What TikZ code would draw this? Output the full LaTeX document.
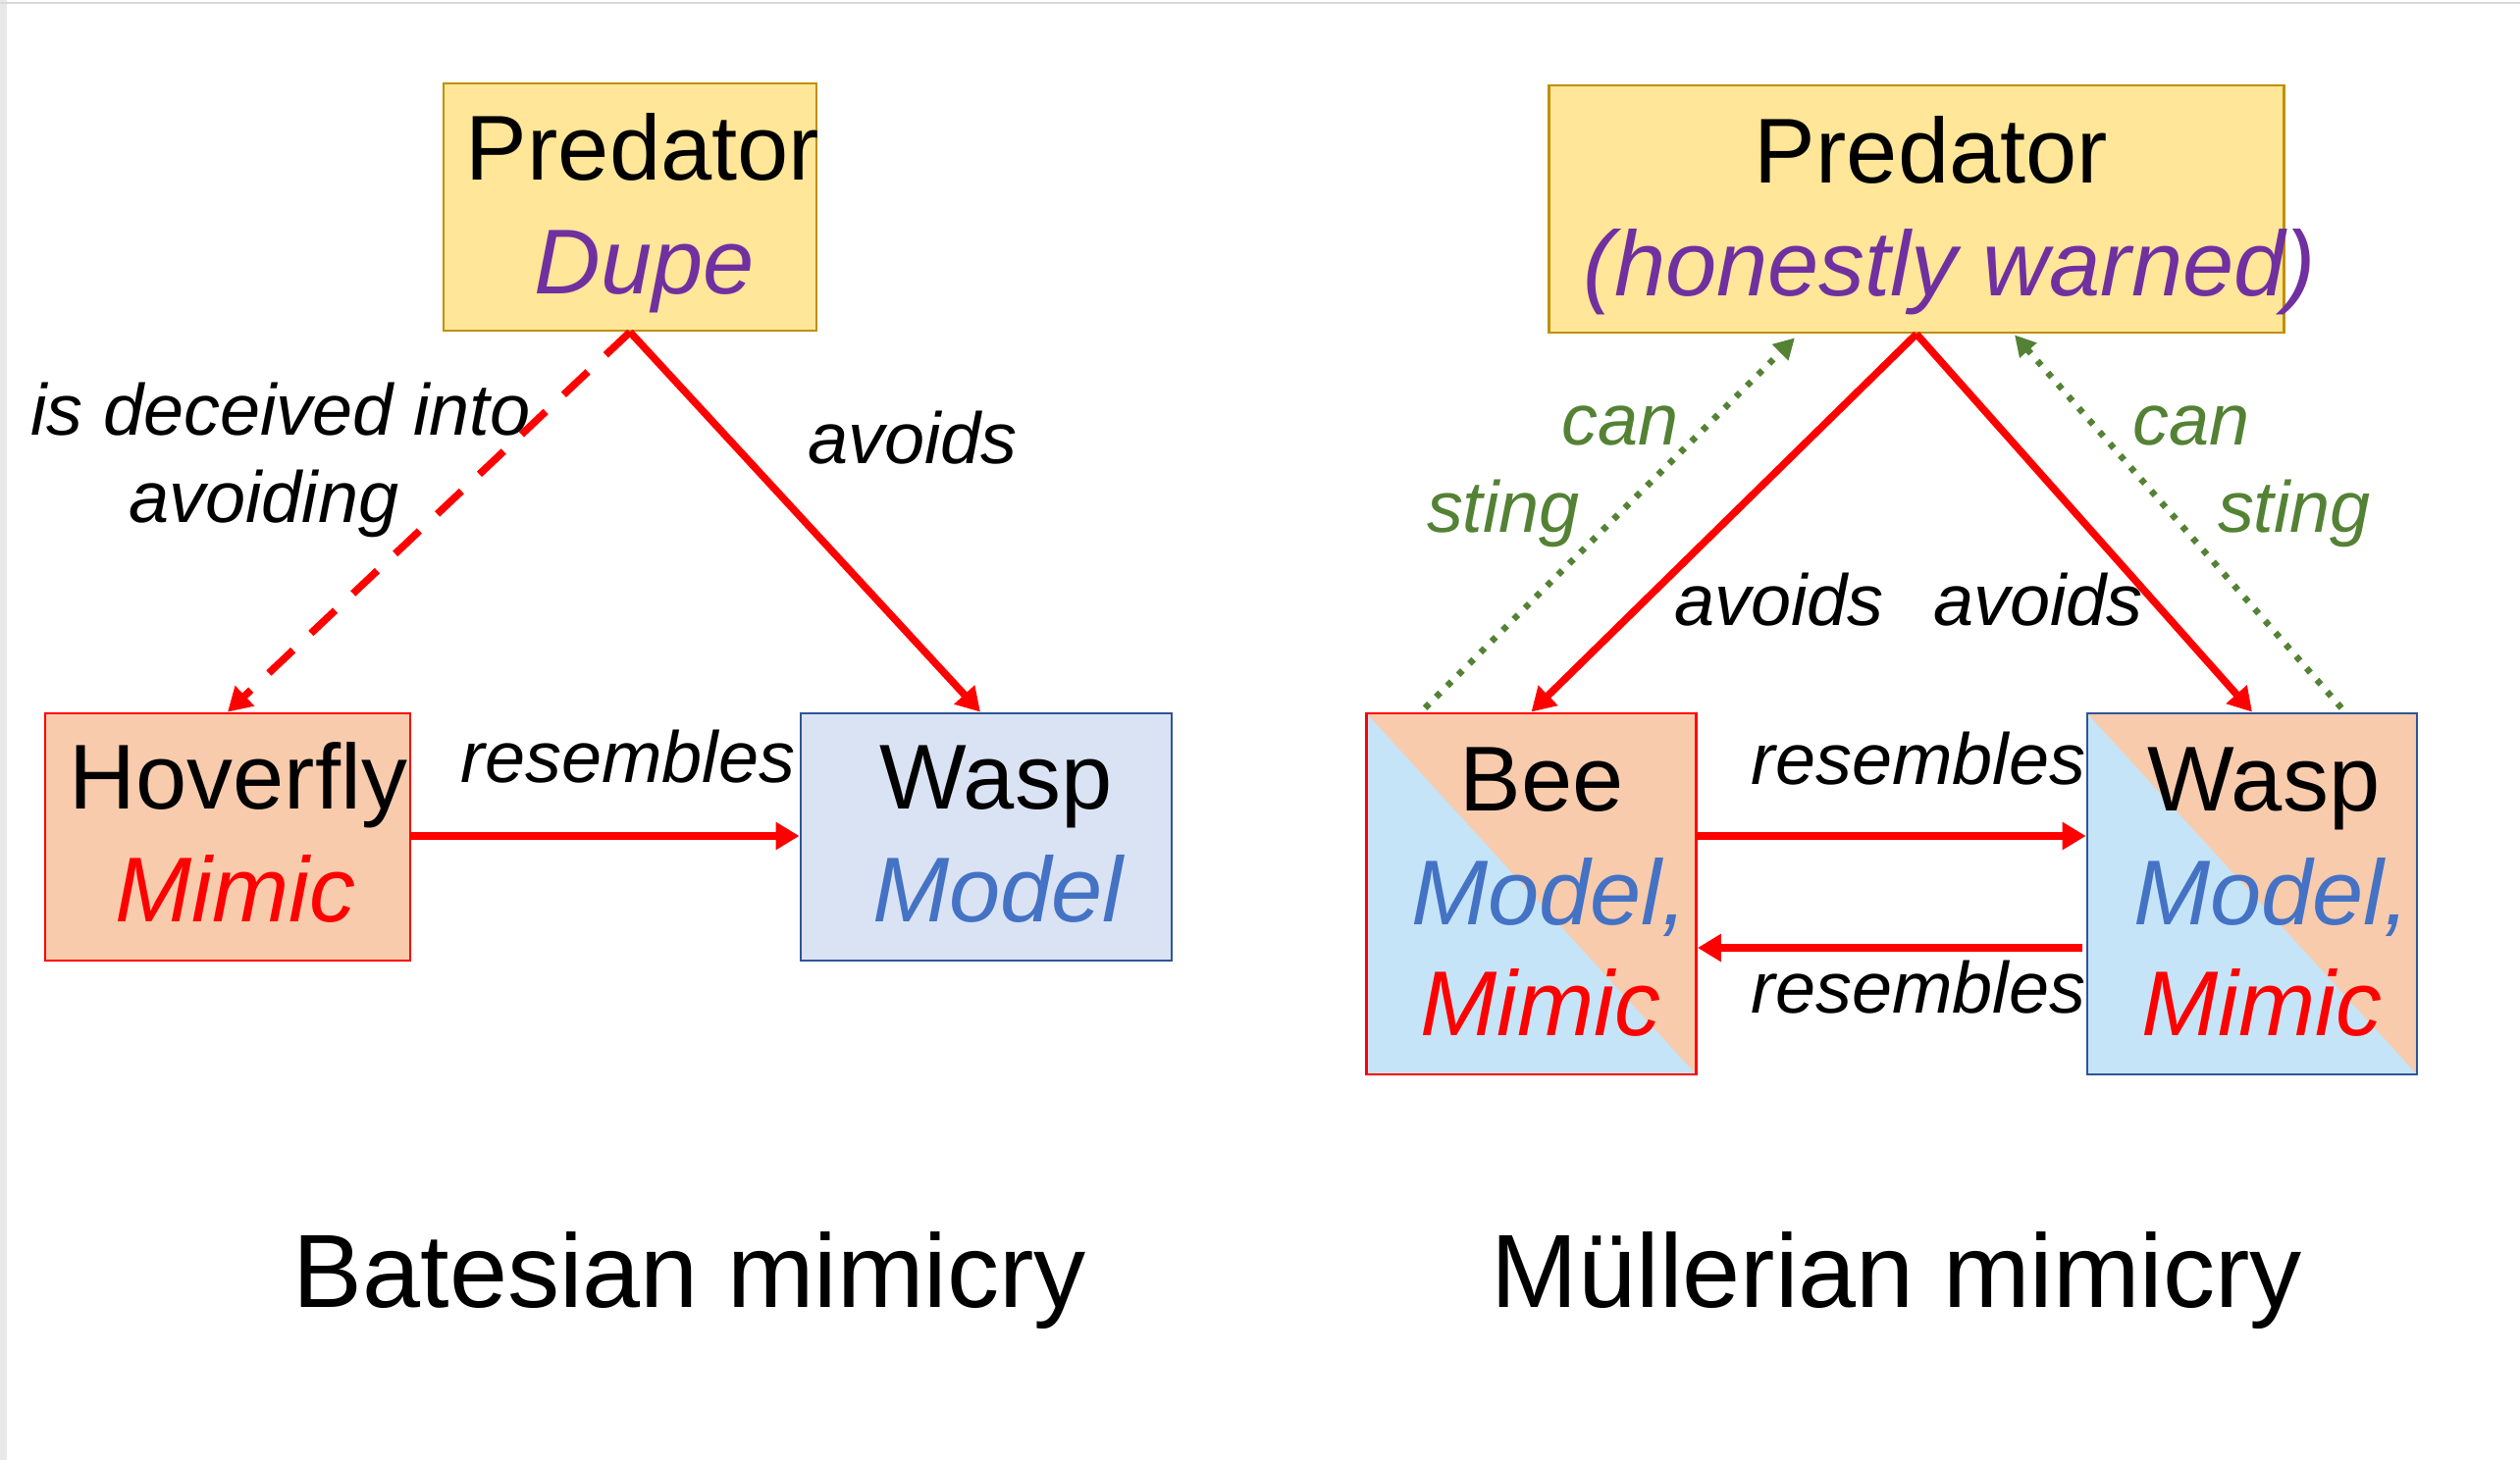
\documentclass[tikz,border=0pt]{standalone}
\usepackage{fontspec}
\setmainfont{Liberation Sans}
\usetikzlibrary{arrows.meta,calc}
\definecolor{predfill}{HTML}{FFE699}
\definecolor{preddraw}{HTML}{BF9000}
\definecolor{salmon}{HTML}{F8CBAD}
\definecolor{wfill}{HTML}{DAE3F3}
\definecolor{wdraw}{HTML}{2F5597}
\definecolor{skyb}{HTML}{C5E4F7}
\definecolor{purp}{HTML}{7030A0}
\definecolor{modb}{HTML}{4472C4}
\definecolor{grn}{HTML}{548235}
\definecolor{redc}{HTML}{FF0000}
\newcommand\myboxfont{\fontsize{26.7}{30}\selectfont}
\newcommand\mylblfont{\fontsize{21}{24}\selectfont}
\newcommand\mytitfont{\fontsize{30.2}{34}\selectfont}
\begin{document}
\begin{tikzpicture}[x=0.01cm,y=-0.01cm,
  box/.style={rectangle, draw, line width=0.75pt, inner sep=0pt},
  predbox/.style={box, fill=predfill, draw=preddraw, minimum width=3.8cm, minimum height=2.52cm},
  splitbox/.style={box, fill=skyb, minimum width=3.36cm, minimum height=3.68cm,
    path picture={\fill[salmon] (path picture bounding box.north west) -- (path picture bounding box.north east) -- (path picture bounding box.south east) -- cycle;}},
  txt/.style={inner sep=0pt, anchor=base},
  big/.style={txt, font=\myboxfont},
  bigit/.style={txt, font=\myboxfont\itshape},
  lbl/.style={txt, font=\mylblfont\itshape},
  tit/.style={txt, font=\mytitfont},
  redarrow/.style={draw=redc, line width=0.075cm, -{Triangle[length=0.24cm,width=0.27cm]}},
  greenarrow/.style={draw=grn, line width=0.065cm, dash pattern=on 0.06cm off 0.1cm, -{Triangle[length=0.21cm,width=0.22cm]}},
  dasharrow/.style={redarrow, dash pattern=on 0.34cm off 0.25cm}
]
\useasboundingbox (0,0) rectangle (2568,1488);
\fill[white] (0,0) rectangle (2568,1488);
\fill[black!9] (0,0) rectangle (7,1488);
\draw[black!15, line width=0.02cm] (0,3) -- (2568,3);

% ---------------- Batesian ----------------
\node[predbox] (predL) at (642,211) {};
\node[box, fill=salmon, draw=redc, minimum width=3.72cm, minimum height=2.52cm] (hov) at (232,853) {};
\node[box, fill=wfill, draw=wdraw, minimum width=3.78cm, minimum height=2.52cm] (waspL) at (1005,853) {};

\node[big] (tPredL) at (655,184) {Predator};
\node[bigit, text=purp] (tDupe) at (657,300) {Dupe};
\node[big] (tHov) at (243,824) {Hoverfly};
\node[bigit, text=redc] (tMimL) at (240,939) {Mimic};
\node[big] (tWaspL) at (1015,824) {Wasp};
\node[bigit, text=modb] (tModL) at (1017,939) {Model};

\draw[dasharrow] (predL.south) -- (hov.north);
\draw[redarrow] (predL.south) -- ([xshift=-0.06cm]waspL.north);
\draw[redarrow] (hov.east |- 0,852) -- (waspL.west |- 0,852);

\node[lbl] (lDec) at (286,443) {is deceived into};
\node[lbl] (lAvoiding) at (269,533) {avoiding};
\node[lbl] (lAvL) at (930,472) {avoids};
\node[lbl] (lResL) at (640,797) {resembles};
\node[tit] (titL) at (703,1332) {Batesian mimicry};

% ---------------- Muellerian ----------------
\node[predbox, minimum width=7.48cm] (predR) at (1953,213) {};
\node[splitbox, draw=redc] (bee) at (1560.5,911) {};
\node[splitbox, draw=wdraw] (waspR) at (2295,911) {};

\node[big] (tPredR) at (1968,187) {Predator};
\node[bigit, text=purp] (tHon) at (1987,302) {(honestly warned)};
\node[big] (tBee) at (1571,826) {Bee};
\node[bigit, text=modb] (tModB) at (1579,942) {Model,};
\node[bigit, text=redc] (tMimB) at (1570,1055) {Mimic};
\node[big] (tWaspR) at (2307,826) {Wasp};
\node[bigit, text=modb] (tModW) at (2315,942) {Model,};
\node[bigit, text=redc] (tMimW) at (2305,1055) {Mimic};

\draw[redarrow] (predR.south) -- (bee.north);
\draw[redarrow] (predR.south) -- (waspR.north);
\draw[greenarrow] ([xshift=0.61cm,yshift=0.04cm]bee.north west) -- ([xshift=-1.24cm,yshift=-0.04cm]predR.south);
\draw[greenarrow] ([xshift=0.91cm,yshift=0.04cm]waspR.north) -- ([xshift=1.0cm,yshift=-0.01cm]predR.south);
\draw[redarrow] (bee.east |- 0,852) -- (waspR.west |- 0,852);
\draw[redarrow] ([xshift=-0.04cm]waspR.west |- 0,966) -- (bee.east |- 0,966);

\node[lbl, text=grn] (lCanL) at (1651,454) {can};
\node[lbl, text=grn] (lStL) at (1532,543) {sting};
\node[lbl, text=grn] (lCanR) at (2233,454) {can};
\node[lbl, text=grn] (lStR) at (2338,543) {sting};
\node[lbl] (lAvR1) at (1813,637) {avoids};
\node[lbl] (lAvR2) at (2077,637) {avoids};
\node[lbl] (lResR1) at (1955,799) {resembles};
\node[lbl] (lResR2) at (1955,1032) {resembles};
\node[tit] (titR) at (1933,1332) {Müllerian mimicry};
\end{tikzpicture}
\end{document}
